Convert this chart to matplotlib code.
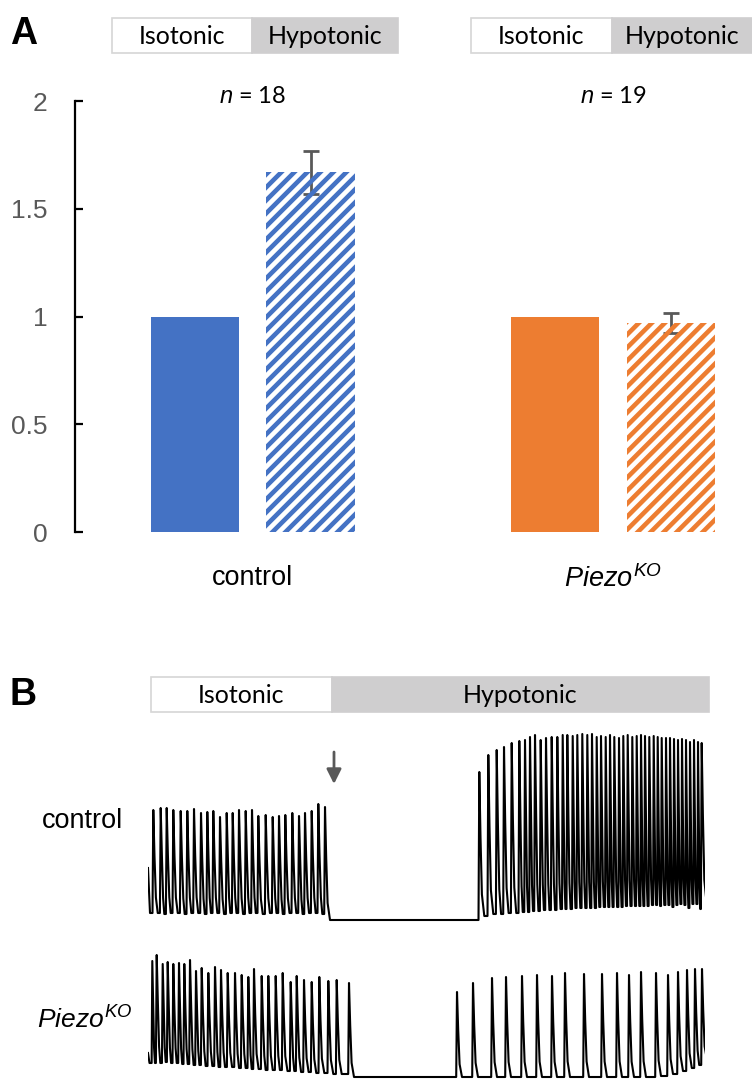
import numpy as np
import matplotlib.pyplot as plt
from matplotlib.patches import Rectangle
from matplotlib.collections import LineCollection
from matplotlib.transforms import IdentityTransform

plt.rcParams['mathtext.fontset'] = 'custom'
plt.rcParams['mathtext.it'] = 'Liberation Sans:italic'
plt.rcParams['mathtext.rm'] = 'Liberation Sans'

# ---------------- Panel A data ----------------
groups = ['control', '$Piezo^{KO}$']
n_labels = ['$n$ = 18', '$n$ = 19']
iso_vals = [1.0, 1.0]
hypo_vals = [1.67, 0.97]
hypo_err = [0.10, 0.045]
colors = ['#4472C4', '#ED7D31']
yticks = [0, 0.5, 1, 1.5, 2]
ytick_labels = ['0', '0.5', '1', '1.5', '2']

# ---------------- Panel B data (time and amplitude in arbitrary units) ----------------
# control trace
ctrl_start = [(0, 52), (2.0, 7)]
ctrl_iso_t = [5.3, 12.7, 18.7, 25.3, 32.7, 39.3, 46, 53, 59.3, 65.3, 72, 78.7, 84.7, 91,
              97.7, 104, 110.3, 117.7, 124.7, 131, 137.3, 144.3, 151, 157, 163.7, 170.3, 177]
ctrl_iso_peak = [110, 112, 112, 110, 109, 109, 111, 107, 108, 109, 103, 107, 107, 110,
                 109, 110, 104, 105, 103, 104, 105, 107, 104, 107, 109, 116, 113]
ctrl_iso_trough = [7, 6, 7, 7, 6, 7, 7, 6, 7, 7, 6, 7, 7, 6,
                   7, 7, 6, 7, 7, 6, 7, 7, 6, 7, 7, 6, 0]
ctrl_hyp_t = [331.3, 340.3, 348.7, 356, 363.7, 371.3, 377, 382, 387, 392.7, 398, 403.7,
              409.3, 414.7, 419.3, 424.7, 429.3, 434.3, 439.3, 444, 448.7, 453, 457.7, 462,
              466.3, 471, 475.3, 479.7, 484.3, 488.7, 493, 497, 501.3, 505.7, 509.7, 513.7,
              518, 522, 526, 530, 534, 538, 542, 546, 550, 553.7]
ctrl_hyp_peak = [148, 165, 170, 173, 177, 179, 180, 183, 185, 180, 182, 183,
                 183, 185, 185, 184, 185, 186, 185, 186, 183, 184, 183, 185,
                 183, 182, 184, 185, 183, 184, 185, 184, 183, 184, 183, 182,
                 182, 182, 181, 180, 181, 180, 178, 180, 178, 177]
ctrl_hyp_trough = [4, 6, 6, 7, 7, 8, 8, 9, 9, 10, 10, 10, 11, 11, 11, 12, 12, 12, 12, 12,
                   13, 13, 13, 13, 13, 13, 14, 14, 14, 14, 14, 14, 15, 15, 14, 15, 15, 13,
                   15, 16, 15, 12, 16, 16, 11, 16]

# Piezo KO trace
ko_start = [(0, 24), (1.5, 14)]
ko_iso_t = [4.3, 8.7, 14.7, 19.7, 25.3, 31, 36.3, 42, 48, 53.7, 60.3, 67, 73, 79.7, 87,
            93.7, 100.3, 106, 113.7, 120.3, 127.7, 134.7, 142.7, 148.7, 156, 163.7, 171.3,
            180.3, 188.7, 201]
ko_iso_peak = [116, 122, 113, 115, 113, 114, 113, 117, 106, 109, 104, 110, 107, 104, 104,
               102, 100, 108, 101, 101, 101, 104, 95, 101, 97, 95, 100, 96, 97, 94]
ko_iso_trough = [14, 14, 15, 14, 14, 13, 13, 12, 12, 11, 11, 10, 10, 10, 9,
                 9, 8, 8, 7, 7, 7, 6, 6, 5, 5, 4, 4, 3, 3, 0]
ko_hyp_t = [309, 325, 344, 358, 374, 389, 404, 417, 436, 454, 469, 481, 493, 508, 520,
            530, 539, 547, 554]
ko_hyp_peak = [85, 94, 99, 100, 101, 102, 101, 104, 103, 103, 104, 102, 105, 104, 102,
               105, 107, 108, 108]
ko_hyp_trough = [0, 0, 0, 0, 0, 0, 0, 0, 0, 0, 0, 0, 0, 1, 3, 6, 9, 12, 17]


def spikes(times, peaks, troughs, prev_level):
    # polyline through each spike: rise, peak, fast fall, trough
    xs, ys = [], []
    level = prev_level
    for i, (t, p, b) in enumerate(zip(times, peaks, troughs)):
        g = times[i + 1] - t if i + 1 < len(times) else 10
        rise = min(0.8, 0.15 * g)
        h = p - b
        xs += [t - rise, t, t + min(1.2, 0.2 * g), t + min(2.6, 0.4 * g), t + min(5.0, 0.6 * g)]
        ys += [level, p, b + 0.55 * h, b + 0.15 * h, b]
        level = b
    return xs, ys


def trace(start, seg1, seg2):
    xs = [s[0] for s in start]
    ys = [s[1] for s in start]
    x1, y1 = spikes(*seg1, ys[-1])
    x2, y2 = spikes(*seg2, y1[-1])
    return xs + x1 + x2, ys + y1 + y2


W, H = 752, 1092
fig = plt.figure(figsize=(W / 100, H / 100), dpi=100)


def px_axes(left, top, right, bottom, **kw):
    return fig.add_axes([left / W, 1 - bottom / H, (right - left) / W, (bottom - top) / H], **kw)


# overlay in pixel units for labels / condition boxes
ov = px_axes(0, 0, W, H)
ov.set_xlim(0, W)
ov.set_ylim(H, 0)
ov.axis('off')

lab_font = 'Lato'


def cond_box(x0, xm, x1, y0, y1):
    ov.add_patch(Rectangle((x0, y0), xm - x0, y1 - y0, facecolor='white',
                           edgecolor='#d6d6d6', lw=1.2))
    ov.add_patch(Rectangle((xm, y0), x1 - xm, y1 - y0, facecolor='#cfcecf',
                           edgecolor='#cfcecf', lw=1.2))
    ov.text((x0 + xm) / 2, (y0 + y1) / 2 + 1, 'Isotonic', ha='center', va='center',
            fontsize=18, family=lab_font)
    ov.text((xm + x1) / 2, (y0 + y1) / 2 + 1, 'Hypotonic', ha='center', va='center',
            fontsize=18, family=lab_font)


cond_box(112, 252, 398, 18, 53)
cond_box(471, 612, 752, 18, 53)
cond_box(151, 332, 709, 677, 712)

ov.text(10, 34, 'A', fontsize=27, fontweight='bold', family='Liberation Sans', va='center')
ov.text(10, 695, 'B', fontsize=27, fontweight='bold', family='Liberation Sans', va='center')
ov.text(42, 821, 'control', fontsize=19.5, family='Liberation Sans', va='center')
ov.text(37, 1020, '$Piezo^{KO}$', fontsize=19, family='Liberation Sans', va='center')
ov.annotate('', xy=(334, 784), xytext=(334, 752),
            arrowprops=dict(arrowstyle='-|>', color='#595959', lw=2, mutation_scale=22,
                            shrinkA=0, shrinkB=0))

# ---------------- Panel A ----------------
ax = px_axes(75, 101, 752, 532)
x = np.arange(len(groups))
off, bw = 0.16, 0.245
ax.bar(x - off, iso_vals, bw, color=colors)
hb = ax.bar(x + off, hypo_vals, bw, color='white', edgecolor='none')
ax.errorbar(x + off, hypo_vals, yerr=hypo_err, fmt='none', ecolor='#595959',
            elinewidth=2, capsize=6, capthick=2)
ax.set_xlim(-0.494, 1.386)
ax.set_ylim(0, 2)
ax.set_yticks(yticks)
ax.set_yticklabels(ytick_labels)
ax.tick_params(axis='y', direction='in', length=6, width=1.6, colors='black',
               labelcolor='#595959', labelsize=19, pad=20)
for lbl in ax.get_yticklabels():
    lbl.set_family('Liberation Sans')
ax.set_xticks(x)
ax.set_xticklabels(groups, fontsize=19.5, family='Liberation Sans')
ax.tick_params(axis='x', length=0, pad=24)
for s in ['top', 'right', 'bottom']:
    ax.spines[s].set_visible(False)
ax.spines['left'].set_linewidth(1.6)
for i, lab in enumerate(n_labels):
    ax.text(x[i], 2.02, lab, ha='center', va='center', fontsize=17, family=lab_font,
            clip_on=False)

# diagonal stripes clipped to the hypotonic bars
fig.canvas.draw()
period = 13
for bar, c in zip(hb, colors):
    bb = bar.get_window_extent()
    segs = []
    for k in np.arange(-bb.width - bb.height, bb.width + bb.height, period):
        segs.append([(bb.x0 - 20, bb.y0 + k - 20), (bb.x1 + 20, bb.y0 + k + bb.width + 20)])
    lc = LineCollection(segs, colors=c, linewidths=3.3, transform=IdentityTransform())
    lc.set_clip_path(bar)
    fig.add_artist(lc)

# ---------------- Panel B ----------------
ax1 = px_axes(148, 730, 705, 925)
ax1.set_xlim(0, 557)
ax1.set_ylim(-5, 190)
cx, cy = trace(ctrl_start, (ctrl_iso_t, ctrl_iso_peak, ctrl_iso_trough),
               (ctrl_hyp_t, ctrl_hyp_peak, ctrl_hyp_trough))
ax1.plot(cx, cy, color='black', lw=1.5)
ax1.axis('off')

ax2 = px_axes(148, 945, 705, 1085)
ax2.set_xlim(0, 557)
ax2.set_ylim(-8, 132)
kx, ky = trace(ko_start, (ko_iso_t, ko_iso_peak, ko_iso_trough),
               (ko_hyp_t, ko_hyp_peak, ko_hyp_trough))
ax2.plot(kx, ky, color='black', lw=1.5)
ax2.axis('off')

fig.savefig('out.png', dpi=100)
